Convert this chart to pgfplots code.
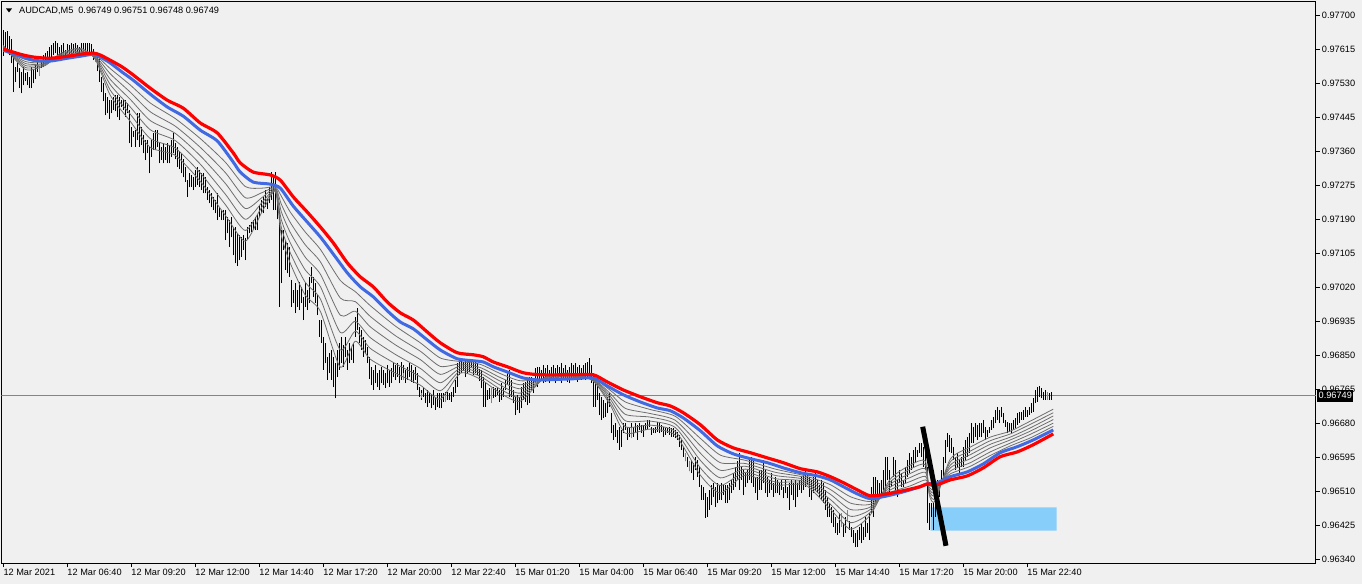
\documentclass[border=0pt]{standalone}
\usepackage{fontspec}
\setmainfont{Liberation Sans}
\usepackage{pgfplots}
\pgfplotsset{compat=1.18}
\usepackage{pgfplotstable}
\definecolor{bg}{HTML}{F0F0F0}
\definecolor{mared}{HTML}{FF0000}
\definecolor{mablue}{HTML}{4169E1}
\definecolor{magray}{HTML}{6E6E6E}
\definecolor{pline}{HTML}{778899}
\definecolor{rectc}{HTML}{87CEFA}
\definecolor{doji}{HTML}{00E000}

\pgfplotstableread{
i lo hi
0 0.97598 0.97663
1 0.97608 0.97658
2 0.97613 0.97660
3 0.97600 0.97648
4 0.97580 0.97640
5 0.97508 0.97608
6 0.97533 0.97570
7 0.97558 0.97580
8 0.97518 0.97568
9 0.97505 0.97558
10 0.97525 0.97570
11 0.97535 0.97555
12 0.97525 0.97558
13 0.97518 0.97545
14 0.97518 0.97570
15 0.97530 0.97565
16 0.97540 0.97575
17 0.97558 0.97588
18 0.97548 0.97570
19 0.97568 0.97585
20 0.97570 0.97600
21 0.97575 0.97605
22 0.97583 0.97610
23 0.97585 0.97620
24 0.97593 0.97625
25 0.97600 0.97630
26 0.97605 0.97635
27 0.97601 0.97630
28 0.97596 0.97621
29 0.97598 0.97625
30 0.97605 0.97630
31 0.97601 0.97613
32 0.97605 0.97628
33 0.97603 0.97625
34 0.97601 0.97630
35 0.97605 0.97628
36 0.97605 0.97630
37 0.97596 0.97626
38 0.97605 0.97621
39 0.97609 0.97630
40 0.97609 0.97630
41 0.97601 0.97630
42 0.97605 0.97630
43 0.97603 0.97630
44 0.97605 0.97628
45 0.97588 0.97615
46 0.97583 0.97600
47 0.97560 0.97596
48 0.97533 0.97590
49 0.97508 0.97546
50 0.97485 0.97530
51 0.97450 0.97505
52 0.97455 0.97496
53 0.97442 0.97488
54 0.97455 0.97488
55 0.97463 0.97496
56 0.97460 0.97501
57 0.97446 0.97501
58 0.97438 0.97496
59 0.97471 0.97488
60 0.97463 0.97492
61 0.97446 0.97488
62 0.97455 0.97480
63 0.97380 0.97463
64 0.97371 0.97421
65 0.97396 0.97410
66 0.97371 0.97413
67 0.97388 0.97455
68 0.97371 0.97455
69 0.97375 0.97420
70 0.97355 0.97400
71 0.97338 0.97388
72 0.97355 0.97388
73 0.97305 0.97371
74 0.97346 0.97388
75 0.97363 0.97405
76 0.97363 0.97413
77 0.97371 0.97413
78 0.97330 0.97380
79 0.97338 0.97371
80 0.97330 0.97380
81 0.97338 0.97371
82 0.97330 0.97380
83 0.97330 0.97375
84 0.97346 0.97388
85 0.97355 0.97405
86 0.97340 0.97380
87 0.97321 0.97371
88 0.97315 0.97360
89 0.97305 0.97355
90 0.97295 0.97340
91 0.97284 0.97321
92 0.97246 0.97288
93 0.97270 0.97305
94 0.97271 0.97300
95 0.97263 0.97296
96 0.97271 0.97313
97 0.97275 0.97321
98 0.97271 0.97313
99 0.97263 0.97305
100 0.97255 0.97305
101 0.97255 0.97296
102 0.97238 0.97271
103 0.97230 0.97263
104 0.97220 0.97255
105 0.97213 0.97246
106 0.97205 0.97238
107 0.97188 0.97255
108 0.97196 0.97220
109 0.97188 0.97213
110 0.97188 0.97213
111 0.97138 0.97213
112 0.97155 0.97196
113 0.97121 0.97188
114 0.97145 0.97196
115 0.97100 0.97171
116 0.97080 0.97171
117 0.97073 0.97155
118 0.97088 0.97150
119 0.97096 0.97146
120 0.97113 0.97151
121 0.97088 0.97142
122 0.97138 0.97171
123 0.97155 0.97175
124 0.97159 0.97184
125 0.97163 0.97188
126 0.97163 0.97196
127 0.97163 0.97201
128 0.97196 0.97226
129 0.97205 0.97238
130 0.97205 0.97246
131 0.97221 0.97263
132 0.97217 0.97242
133 0.97230 0.97270
134 0.97238 0.97309
135 0.97213 0.97301
136 0.97213 0.97309
137 0.97190 0.97240
138 0.96971 0.97213
139 0.97030 0.97163
140 0.97113 0.97163
141 0.97063 0.97138
142 0.97055 0.97130
143 0.97046 0.97121
144 0.96971 0.97038
145 0.96980 0.97013
146 0.96955 0.97030
147 0.96971 0.97013
148 0.96963 0.97033
149 0.96980 0.97021
150 0.96938 0.96996
151 0.96971 0.97030
152 0.96963 0.97013
153 0.96980 0.97046
154 0.97030 0.97071
155 0.96996 0.97046
156 0.96980 0.97030
157 0.96950 0.97000
158 0.96896 0.96938
159 0.96880 0.96938
160 0.96813 0.96896
161 0.96830 0.96880
162 0.96788 0.96846
163 0.96805 0.96855
164 0.96788 0.96863
165 0.96770 0.96846
166 0.96742 0.96830
167 0.96796 0.96863
168 0.96813 0.96880
169 0.96830 0.96896
170 0.96821 0.96875
171 0.96846 0.96896
172 0.96813 0.96863
173 0.96830 0.96880
174 0.96838 0.96871
175 0.96830 0.96880
176 0.96896 0.96946
177 0.96913 0.96967
178 0.96880 0.96921
179 0.96863 0.96913
180 0.96846 0.96896
181 0.96855 0.96888
182 0.96830 0.96871
183 0.96790 0.96846
184 0.96775 0.96821
185 0.96763 0.96813
186 0.96780 0.96825
187 0.96771 0.96805
188 0.96763 0.96813
189 0.96780 0.96821
190 0.96775 0.96813
191 0.96768 0.96805
192 0.96780 0.96825
193 0.96771 0.96813
194 0.96780 0.96817
195 0.96796 0.96833
196 0.96788 0.96825
197 0.96796 0.96830
198 0.96780 0.96821
199 0.96788 0.96834
200 0.96796 0.96825
201 0.96780 0.96813
202 0.96788 0.96821
203 0.96796 0.96830
204 0.96784 0.96825
205 0.96780 0.96813
206 0.96788 0.96821
207 0.96763 0.96805
208 0.96746 0.96771
209 0.96738 0.96763
210 0.96746 0.96771
211 0.96730 0.96755
212 0.96721 0.96763
213 0.96730 0.96755
214 0.96717 0.96750
215 0.96725 0.96763
216 0.96713 0.96746
217 0.96721 0.96755
218 0.96717 0.96755
219 0.96717 0.96755
220 0.96734 0.96755
221 0.96734 0.96759
222 0.96738 0.96759
223 0.96738 0.96755
224 0.96734 0.96759
225 0.96746 0.96771
226 0.96755 0.96788
227 0.96771 0.96830
228 0.96800 0.96838
229 0.96805 0.96838
230 0.96813 0.96834
231 0.96796 0.96838
232 0.96805 0.96838
233 0.96809 0.96838
234 0.96821 0.96838
235 0.96800 0.96834
236 0.96805 0.96838
237 0.96800 0.96830
238 0.96785 0.96815
239 0.96767 0.96813
240 0.96721 0.96796
241 0.96721 0.96784
242 0.96738 0.96763
243 0.96740 0.96767
244 0.96730 0.96767
245 0.96742 0.96771
246 0.96746 0.96767
247 0.96750 0.96767
248 0.96734 0.96763
249 0.96738 0.96780
250 0.96746 0.96767
251 0.96763 0.96788
252 0.96776 0.96805
253 0.96746 0.96813
254 0.96746 0.96788
255 0.96730 0.96763
256 0.96700 0.96746
257 0.96713 0.96750
258 0.96705 0.96746
259 0.96717 0.96771
260 0.96738 0.96780
261 0.96734 0.96784
262 0.96725 0.96788
263 0.96730 0.96796
264 0.96763 0.96796
265 0.96755 0.96788
266 0.96780 0.96817
267 0.96771 0.96821
268 0.96788 0.96821
269 0.96788 0.96813
270 0.96780 0.96825
271 0.96784 0.96817
272 0.96792 0.96825
273 0.96780 0.96813
274 0.96788 0.96821
275 0.96792 0.96825
276 0.96780 0.96817
277 0.96788 0.96825
278 0.96796 0.96821
279 0.96780 0.96830
280 0.96788 0.96817
281 0.96792 0.96825
282 0.96784 0.96813
283 0.96780 0.96821
284 0.96792 0.96830
285 0.96788 0.96825
286 0.96796 0.96830
287 0.96784 0.96821
288 0.96792 0.96825
289 0.96788 0.96817
290 0.96796 0.96825
291 0.96788 0.96830
292 0.96796 0.96834
293 0.96792 0.96842
294 0.96780 0.96825
295 0.96721 0.96805
296 0.96721 0.96788
297 0.96738 0.96780
298 0.96700 0.96755
299 0.96688 0.96746
300 0.96692 0.96738
301 0.96696 0.96730
302 0.96705 0.96746
303 0.96721 0.96755
304 0.96655 0.96705
305 0.96638 0.96676
306 0.96646 0.96680
307 0.96630 0.96663
308 0.96613 0.96671
309 0.96621 0.96663
310 0.96655 0.96680
311 0.96663 0.96680
312 0.96638 0.96671
313 0.96646 0.96671
314 0.96663 0.96680
315 0.96646 0.96671
316 0.96655 0.96680
317 0.96638 0.96676
318 0.96663 0.96680
319 0.96655 0.96676
320 0.96646 0.96676
321 0.96663 0.96680
322 0.96663 0.96688
323 0.96671 0.96688
324 0.96651 0.96671
325 0.96655 0.96667
326 0.96655 0.96671
327 0.96659 0.96684
328 0.96655 0.96680
329 0.96659 0.96675
330 0.96646 0.96671
331 0.96651 0.96667
332 0.96655 0.96667
333 0.96651 0.96671
334 0.96646 0.96667
335 0.96646 0.96667
336 0.96642 0.96663
337 0.96638 0.96659
338 0.96621 0.96651
339 0.96613 0.96638
340 0.96596 0.96621
341 0.96584 0.96605
342 0.96571 0.96596
343 0.96559 0.96584
344 0.96555 0.96588
345 0.96538 0.96580
346 0.96563 0.96596
347 0.96546 0.96588
348 0.96521 0.96571
349 0.96488 0.96525
350 0.96488 0.96521
351 0.96442 0.96505
352 0.96446 0.96496
353 0.96463 0.96513
354 0.96476 0.96525
355 0.96496 0.96530
356 0.96471 0.96521
357 0.96480 0.96530
358 0.96488 0.96525
359 0.96488 0.96530
360 0.96500 0.96525
361 0.96480 0.96525
362 0.96480 0.96525
363 0.96488 0.96530
364 0.96505 0.96538
365 0.96513 0.96555
366 0.96521 0.96571
367 0.96538 0.96584
368 0.96513 0.96605
369 0.96538 0.96571
370 0.96500 0.96563
371 0.96521 0.96555
372 0.96530 0.96563
373 0.96538 0.96596
374 0.96530 0.96596
375 0.96521 0.96588
376 0.96505 0.96546
377 0.96488 0.96546
378 0.96513 0.96563
379 0.96513 0.96563
380 0.96530 0.96588
381 0.96505 0.96563
382 0.96496 0.96546
383 0.96505 0.96538
384 0.96513 0.96555
385 0.96496 0.96530
386 0.96505 0.96546
387 0.96505 0.96538
388 0.96500 0.96530
389 0.96513 0.96538
390 0.96492 0.96521
391 0.96505 0.96538
392 0.96492 0.96521
393 0.96463 0.96530
394 0.96500 0.96538
395 0.96488 0.96530
396 0.96471 0.96538
397 0.96496 0.96530
398 0.96513 0.96538
399 0.96505 0.96546
400 0.96513 0.96555
401 0.96521 0.96563
402 0.96525 0.96555
403 0.96496 0.96546
404 0.96488 0.96538
405 0.96505 0.96546
406 0.96513 0.96563
407 0.96505 0.96538
408 0.96496 0.96525
409 0.96488 0.96538
410 0.96480 0.96530
411 0.96463 0.96513
412 0.96446 0.96496
413 0.96446 0.96480
414 0.96430 0.96471
415 0.96421 0.96463
416 0.96405 0.96446
417 0.96401 0.96430
418 0.96405 0.96455
419 0.96421 0.96455
420 0.96396 0.96430
421 0.96405 0.96446
422 0.96434 0.96463
423 0.96413 0.96434
424 0.96396 0.96421
425 0.96380 0.96413
426 0.96371 0.96405
427 0.96371 0.96413
428 0.96388 0.96421
429 0.96380 0.96430
430 0.96388 0.96421
431 0.96396 0.96446
432 0.96405 0.96430
433 0.96388 0.96455
434 0.96455 0.96521
435 0.96446 0.96546
436 0.96480 0.96546
437 0.96496 0.96538
438 0.96496 0.96530
439 0.96505 0.96538
440 0.96513 0.96563
441 0.96505 0.96596
442 0.96538 0.96596
443 0.96496 0.96563
444 0.96521 0.96538
445 0.96546 0.96596
446 0.96513 0.96588
447 0.96496 0.96538
448 0.96530 0.96563
449 0.96521 0.96555
450 0.96521 0.96538
451 0.96530 0.96571
452 0.96546 0.96588
453 0.96555 0.96605
454 0.96563 0.96596
455 0.96571 0.96613
456 0.96580 0.96621
457 0.96596 0.96613
458 0.96605 0.96630
459 0.96596 0.96630
460 0.96571 0.96621
461 0.96563 0.96621
462 0.96430 0.96571
463 0.96413 0.96480
464 0.96446 0.96480
465 0.96413 0.96480
466 0.96446 0.96480
467 0.96463 0.96538
468 0.96496 0.96530
469 0.96530 0.96563
470 0.96538 0.96596
471 0.96580 0.96638
472 0.96621 0.96655
473 0.96609 0.96651
474 0.96605 0.96642
475 0.96588 0.96621
476 0.96563 0.96596
477 0.96571 0.96605
478 0.96555 0.96588
479 0.96571 0.96596
480 0.96571 0.96621
481 0.96588 0.96638
482 0.96596 0.96646
483 0.96605 0.96655
484 0.96630 0.96680
485 0.96630 0.96671
486 0.96646 0.96680
487 0.96638 0.96675
488 0.96646 0.96680
489 0.96646 0.96680
490 0.96655 0.96688
491 0.96638 0.96671
492 0.96646 0.96663
493 0.96655 0.96671
494 0.96663 0.96688
495 0.96667 0.96696
496 0.96680 0.96713
497 0.96688 0.96721
498 0.96680 0.96713
499 0.96696 0.96721
500 0.96680 0.96705
501 0.96671 0.96688
502 0.96655 0.96684
503 0.96659 0.96680
504 0.96655 0.96680
505 0.96663 0.96688
506 0.96667 0.96692
507 0.96675 0.96705
508 0.96680 0.96709
509 0.96688 0.96709
510 0.96688 0.96713
511 0.96696 0.96721
512 0.96696 0.96713
513 0.96701 0.96721
514 0.96705 0.96730
515 0.96709 0.96742
516 0.96730 0.96763
517 0.96734 0.96771
518 0.96746 0.96773
519 0.96742 0.96767
520 0.96738 0.96759
521 0.96738 0.96763
522 0.96742 0.96759
523 0.96738 0.96755
524 0.96738 0.96759
525 0.96748 0.96751
}\bars

\pgfplotstableread{
i lo hi
18 0.97548 0.97570
46 0.97583 0.97600
200 0.96788 0.96805
209 0.96742 0.96756
221 0.96734 0.96751
244 0.96730 0.96767
314 0.96642 0.96667
341 0.96584 0.96605
343 0.96559 0.96584
419 0.96421 0.96455
422 0.96434 0.96463
522 0.96738 0.96759
525 0.96748 0.96751
}\greens

\pgfplotstableread{
i f a b c d e
0 0.97625 0.97623 0.97621 0.97619 0.97617 0.97615
11 0.97565 0.97570 0.97575 0.97580 0.97585 0.97590
21 0.97575 0.97577 0.97579 0.97580 0.97582 0.97584
28.5 0.97605 0.97602 0.97600 0.97597 0.97594 0.97592
38.5 0.97618 0.97615 0.97611 0.97608 0.97605 0.97601
46 0.97590 0.97592 0.97594 0.97596 0.97598 0.97600
53.5 0.97500 0.97513 0.97527 0.97540 0.97554 0.97567
63.5 0.97435 0.97453 0.97471 0.97490 0.97508 0.97526
73.5 0.97370 0.97392 0.97414 0.97437 0.97459 0.97481
86 0.97350 0.97368 0.97387 0.97405 0.97423 0.97442
98.5 0.97285 0.97306 0.97328 0.97349 0.97370 0.97392
111 0.97200 0.97227 0.97253 0.97280 0.97307 0.97333
121 0.97135 0.97162 0.97190 0.97217 0.97244 0.97272
129.5 0.97210 0.97222 0.97233 0.97245 0.97257 0.97268
136 0.97260 0.97262 0.97264 0.97267 0.97269 0.97271
139 0.97150 0.97170 0.97189 0.97209 0.97228 0.97248
143.5 0.97080 0.97106 0.97131 0.97157 0.97182 0.97208
151 0.97000 0.97032 0.97063 0.97095 0.97126 0.97158
158.5 0.96960 0.96991 0.97022 0.97053 0.97084 0.97115
168.5 0.96820 0.96863 0.96907 0.96950 0.96993 0.97037
176 0.96885 0.96910 0.96935 0.96960 0.96984 0.97009
183.5 0.96840 0.96867 0.96894 0.96921 0.96947 0.96974
196 0.96805 0.96829 0.96852 0.96876 0.96899 0.96923
208.5 0.96775 0.96796 0.96817 0.96839 0.96860 0.96881
218.5 0.96740 0.96761 0.96781 0.96802 0.96822 0.96843
228.5 0.96805 0.96811 0.96817 0.96823 0.96828 0.96834
238.5 0.96790 0.96797 0.96805 0.96812 0.96819 0.96827
248.5 0.96755 0.96765 0.96775 0.96785 0.96794 0.96804
258.5 0.96735 0.96745 0.96755 0.96766 0.96776 0.96786
271 0.96795 0.96794 0.96793 0.96792 0.96791 0.96790
283.5 0.96805 0.96803 0.96800 0.96798 0.96796 0.96793
295 0.96785 0.96786 0.96788 0.96789 0.96790 0.96792
303.5 0.96725 0.96732 0.96740 0.96747 0.96754 0.96762
311 0.96655 0.96671 0.96686 0.96702 0.96717 0.96733
323.5 0.96665 0.96675 0.96685 0.96695 0.96704 0.96714
336 0.96650 0.96659 0.96669 0.96678 0.96687 0.96697
348.5 0.96550 0.96568 0.96587 0.96605 0.96624 0.96642
358.5 0.96505 0.96524 0.96543 0.96562 0.96581 0.96600
371 0.96550 0.96557 0.96565 0.96572 0.96579 0.96587
386 0.96525 0.96533 0.96541 0.96549 0.96557 0.96565
401 0.96525 0.96530 0.96534 0.96539 0.96544 0.96548
413.5 0.96465 0.96477 0.96489 0.96502 0.96514 0.96526
423.5 0.96415 0.96431 0.96447 0.96464 0.96480 0.96496
433.5 0.96450 0.96457 0.96464 0.96470 0.96477 0.96484
443.5 0.96540 0.96533 0.96527 0.96520 0.96513 0.96507
453.5 0.96575 0.96565 0.96554 0.96544 0.96534 0.96523
461 0.96585 0.96576 0.96566 0.96557 0.96547 0.96538
463 0.96500 0.96505 0.96510 0.96514 0.96519 0.96524
466 0.96485 0.96492 0.96500 0.96507 0.96514 0.96522
473.5 0.96590 0.96583 0.96575 0.96568 0.96560 0.96553
483.5 0.96620 0.96610 0.96601 0.96591 0.96581 0.96572
493.5 0.96645 0.96636 0.96627 0.96618 0.96608 0.96599
503.5 0.96660 0.96653 0.96645 0.96638 0.96630 0.96623
513.5 0.96685 0.96677 0.96668 0.96660 0.96652 0.96643
525 0.96715 0.96706 0.96698 0.96689 0.96680 0.96672
}\fan

\pgfplotstableread{
i red blue
0 0.97616 0.97613
8.5 0.97603 0.97598
15 0.97596 0.97588
23.5 0.97593 0.97586
32 0.97598 0.97593
38.5 0.97603 0.97598
45 0.97606 0.97603
48.5 0.97601 0.97596
53.5 0.97588 0.97581
59.5 0.97571 0.97558
65 0.97551 0.97538
73.5 0.97518 0.97503
82 0.97488 0.97471
90 0.97468 0.97448
98.5 0.97431 0.97413
107 0.97406 0.97386
115 0.97356 0.97333
118.5 0.97331 0.97308
125 0.97308 0.97283
133.5 0.97301 0.97278
138.5 0.97288 0.97268
145 0.97246 0.97223
152 0.97208 0.97183
158.5 0.97171 0.97146
165 0.97131 0.97103
172 0.97081 0.97056
178.5 0.97046 0.97021
185 0.97021 0.96996
192 0.96983 0.96961
198.5 0.96956 0.96933
205 0.96938 0.96916
212 0.96908 0.96888
218.5 0.96881 0.96863
227 0.96856 0.96841
235 0.96851 0.96836
240 0.96846 0.96833
245 0.96833 0.96821
252 0.96821 0.96808
260 0.96806 0.96793
268.5 0.96801 0.96788
285 0.96801 0.96791
295 0.96801 0.96793
302 0.96783 0.96773
310 0.96763 0.96751
318.5 0.96746 0.96733
327 0.96731 0.96718
333.5 0.96723 0.96711
340 0.96706 0.96693
348.5 0.96676 0.96661
357 0.96638 0.96623
365 0.96618 0.96603
373.5 0.96606 0.96591
382 0.96593 0.96581
390 0.96581 0.96568
398.5 0.96566 0.96556
407 0.96558 0.96548
413.5 0.96546 0.96538
420 0.96531 0.96521
427 0.96513 0.96503
433.5 0.96498 0.96491
442 0.96503 0.96498
450 0.96511 0.96508
458.5 0.96521 0.96521
462 0.96528 0.96528
467 0.96526 0.96531
473.5 0.96538 0.96546
482 0.96548 0.96558
490 0.96568 0.96578
498.5 0.96596 0.96606
507 0.96608 0.96621
515 0.96626 0.96638
525 0.96653 0.96663
}\mas

\newcommand{\lblfont}{\fontsize{9.2}{10}\selectfont}

\begin{document}
\begin{tikzpicture}[x=1pt,y=1pt]
\useasboundingbox (0,0) rectangle (1362,584);
\fill[bg] (0,0) rectangle (1362,584);
\begin{axis}[
  at={(1.5pt,21pt)}, anchor=south west,
  scale only axis, width=1314.5pt, height=561.5pt,
  xmin=-0.9, xmax=656.35, ymin=0.96330, ymax=0.97735,
  axis line style={black, line width=1pt},
  axis background/.style={fill=bg},
  xtick={0,32,64,96,128,160,192,224,256,288,320,352,384,416,448,480,512},
  xticklabels={12 Mar 2021,12 Mar 06:40,12 Mar 09:20,12 Mar 12:00,12 Mar 14:40,12 Mar 17:20,12 Mar 20:00,12 Mar 22:40,15 Mar 01:20,15 Mar 04:00,15 Mar 06:40,15 Mar 09:20,15 Mar 12:00,15 Mar 14:40,15 Mar 17:20,15 Mar 20:00,15 Mar 22:40},
  ytick={0.96340,0.96425,0.96510,0.96595,0.96680,0.96765,0.96850,0.96935,0.97020,0.97105,0.97190,0.97275,0.97360,0.97445,0.97530,0.97615,0.97700},
  yticklabels={0.96340,0.96425,0.96510,0.96595,0.96680,0.96765,0.96850,0.96935,0.97020,0.97105,0.97190,0.97275,0.97360,0.97445,0.97530,0.97615,0.97700},
  tick align=outside, major tick length=4pt,
  tick style={black, line width=1pt},
  xtick pos=bottom, ytick pos=right, yticklabel pos=right,
  xticklabel style={anchor=north west, inner sep=0pt, font=\lblfont, yshift=-2pt},
  yticklabel style={anchor=west, inner sep=0pt, font=\lblfont, xshift=1.7pt},
  clip=true,
]
% rectangle object
\addplot[fill=rectc, draw=none, forget plot] coordinates {(463.7,0.96469) (526.7,0.96469) (526.7,0.96411) (463.7,0.96411) (463.7,0.96469)};
% current price line
\addplot[pline, line width=1pt, forget plot] coordinates {(-0.9,0.96749) (656.35,0.96749)};
% price bars (low to high)
\addplot[draw=none, mark=none, forget plot,
  error bars/.cd, y dir=plus, y explicit, error mark=none,
  error bar style={draw=black, line width=1pt, solid}]
  table[x=i, y=lo, y error plus expr=\thisrow{hi}-\thisrow{lo}] {\bars};
\addplot[draw=none, mark=none, forget plot,
  error bars/.cd, y dir=plus, y explicit, error mark=none,
  error bar style={draw=doji, line width=1pt, solid}]
  table[x=i, y=lo, y error plus expr=\thisrow{hi}-\thisrow{lo}] {\greens};
% thin moving averages
\addplot[magray, line width=0.8pt, smooth, tension=0.4, forget plot] table[x=i, y=f] {\fan};
\addplot[magray, line width=0.8pt, smooth, tension=0.4, forget plot] table[x=i, y=a] {\fan};
\addplot[magray, line width=0.8pt, smooth, tension=0.4, forget plot] table[x=i, y=b] {\fan};
\addplot[magray, line width=0.8pt, smooth, tension=0.4, forget plot] table[x=i, y=c] {\fan};
\addplot[magray, line width=0.8pt, smooth, tension=0.4, forget plot] table[x=i, y=d] {\fan};
\addplot[magray, line width=0.8pt, smooth, tension=0.4, forget plot] table[x=i, y=e] {\fan};
% thick moving averages
\addplot[mablue, line width=3pt, smooth, tension=0.4, forget plot] table[x=i, y=blue] {\mas};
\addplot[mared, line width=3.2pt, smooth, tension=0.4, forget plot] table[x=i, y=red] {\mas};
% trend line object
\addplot[black, line width=5pt, forget plot] coordinates {(459.7,0.96671) (471.35,0.96373)};
\coordinate (pbox) at (axis cs:656.35,0.96749);
\end{axis}
\node[fill=black, text=white, anchor=west, inner xsep=1.5pt, inner ysep=0pt, minimum height=12pt, font=\lblfont] at ([xshift=1pt]pbox) {0.96749};
\fill[black] (6,575.5) -- (12,575.5) -- (9,571.5) -- cycle;
\node[anchor=west, inner sep=0pt, font=\lblfont] at (19,573.5) {AUDCAD,M5\hspace{5pt}0.96749 0.96751 0.96748 0.96749};
\end{tikzpicture}
\end{document}
